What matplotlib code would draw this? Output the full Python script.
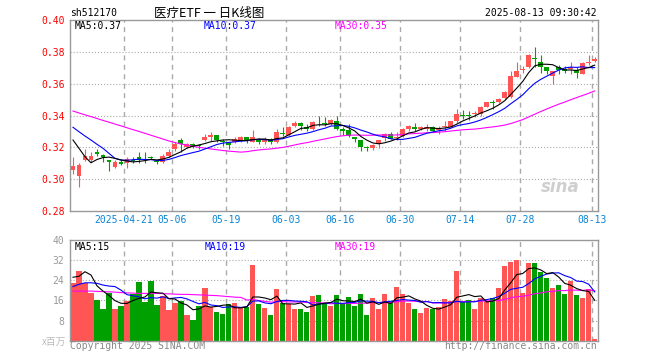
import matplotlib
matplotlib.use('Agg')
import matplotlib.pyplot as plt
import numpy as np
import pandas as pd

plt.rcParams['lines.scale_dashes'] = False

# %% Data — daily candles (index 0 = 2025-04-08 ... 87 = 2025-08-13)
opens = [0.306, 0.302, 0.312, 0.312, 0.3172, 0.315, 0.312, 0.3075, 0.3105, 0.310,
         0.3118, 0.314, 0.3135, 0.3138, 0.3115, 0.311, 0.3145, 0.3187, 0.3246, 0.320,
         0.3219, 0.3215, 0.3246, 0.3267, 0.3277, 0.3238, 0.3232, 0.3232, 0.3246, 0.3267,
         0.3232, 0.3246, 0.3232, 0.3252, 0.3232, 0.3288, 0.3277, 0.3335, 0.335, 0.3329,
         0.3315, 0.3356, 0.3356, 0.3346, 0.3367, 0.3315, 0.3308, 0.3267, 0.3246, 0.3202,
         0.3194, 0.3221, 0.3256, 0.3283, 0.3256, 0.3269, 0.3315, 0.3329, 0.3315, 0.3315,
         0.3325, 0.3308, 0.3325, 0.3329, 0.3363, 0.3404, 0.340, 0.3408, 0.3409, 0.3455,
         0.3484, 0.3482, 0.3509, 0.3514, 0.3643, 0.3688, 0.3702, 0.3758, 0.3733, 0.3702,
         0.365, 0.3702, 0.3692, 0.3692, 0.3685, 0.366, 0.3727, 0.3742]
highs = [0.314, 0.310, 0.319, 0.317, 0.319, 0.316, 0.312, 0.312, 0.3125, 0.314,
         0.314, 0.317, 0.317, 0.3148, 0.312, 0.316, 0.319, 0.3235, 0.326, 0.323,
         0.323, 0.3221, 0.3283, 0.3294, 0.3277, 0.3252, 0.3235, 0.3263, 0.3273, 0.3267,
         0.3308, 0.3256, 0.3263, 0.3256, 0.3315, 0.3325, 0.3331, 0.3363, 0.336, 0.3346,
         0.3367, 0.340, 0.3388, 0.3377, 0.3398, 0.3329, 0.3346, 0.3267, 0.3246, 0.321,
         0.3221, 0.3246, 0.3288, 0.3294, 0.3294, 0.3321, 0.3342, 0.3356, 0.3333, 0.3346,
         0.3335, 0.3335, 0.3367, 0.3367, 0.344, 0.3432, 0.3428, 0.3426, 0.3461, 0.3486,
         0.3497, 0.3509, 0.3555, 0.3681, 0.3733, 0.3712, 0.3785, 0.3831, 0.3781, 0.3706,
         0.3681, 0.3719, 0.3712, 0.3733, 0.3702, 0.3733, 0.3781, 0.3765]
lows = [0.303, 0.295, 0.3115, 0.311, 0.3145, 0.311, 0.305, 0.307, 0.309, 0.307,
        0.310, 0.310, 0.310, 0.3125, 0.3095, 0.310, 0.314, 0.318, 0.317, 0.3193,
        0.3193, 0.319, 0.3242, 0.3242, 0.3232, 0.321, 0.319, 0.3225, 0.3232, 0.3225,
        0.3232, 0.3221, 0.3221, 0.3221, 0.3225, 0.3273, 0.3273, 0.3329, 0.3308, 0.3304,
        0.331, 0.3335, 0.3335, 0.3342, 0.3308, 0.328, 0.3263, 0.3231, 0.318, 0.318,
        0.3183, 0.3196, 0.3242, 0.3252, 0.3246, 0.3263, 0.3304, 0.330, 0.3308, 0.3304,
        0.3294, 0.3283, 0.3304, 0.3325, 0.3356, 0.338, 0.3374, 0.3392, 0.3399, 0.3451,
        0.3441, 0.3476, 0.3503, 0.351, 0.3639, 0.3664, 0.3698, 0.3702, 0.3664, 0.366,
        0.3597, 0.366, 0.3664, 0.366, 0.3633, 0.366, 0.3719, 0.3735]
closes = [0.308, 0.309, 0.3145, 0.3145, 0.3158, 0.314, 0.3105, 0.3105, 0.3095, 0.3125,
          0.3113, 0.312, 0.313, 0.3135, 0.3105, 0.3145, 0.317, 0.322, 0.322, 0.322,
          0.3205, 0.3208, 0.3267, 0.3277, 0.3246, 0.3232, 0.3217, 0.3252, 0.3267, 0.3246,
          0.3263, 0.3232, 0.3252, 0.3232, 0.3298, 0.3283, 0.3329, 0.335, 0.3335, 0.3315,
          0.336, 0.335, 0.3346, 0.3371, 0.3315, 0.3304, 0.3273, 0.325, 0.320, 0.3198,
          0.3217, 0.3246, 0.3283, 0.3252, 0.3267, 0.3315, 0.3335, 0.3315, 0.3329, 0.3325,
          0.330, 0.332, 0.3333, 0.3363, 0.3412, 0.340, 0.3398, 0.3413, 0.3455, 0.3482,
          0.348, 0.3503, 0.3545, 0.365, 0.3681, 0.3692, 0.3781, 0.3754, 0.3702, 0.3681,
          0.3677, 0.3689, 0.3681, 0.3702, 0.3664, 0.3727, 0.3733, 0.3755]
# volume, millions
volumes = [23.0, 27.7, 23.0, 19.1, 16.2, 12.6, 19.1, 12.6, 13.8, 15.9,
           18.4, 23.3, 15.5, 23.7, 14.2, 17.7, 12.2, 15.1, 15.8, 10.2,
           8.2, 13.8, 21.1, 13.5, 11.5, 10.6, 14.6, 15.1, 13.5, 13.5,
           30.1, 14.6, 13.1, 10.2, 20.5, 14.8, 14.6, 12.6, 12.6, 11.5,
           17.7, 18.1, 14.8, 13.8, 18.1, 14.6, 17.5, 13.8, 18.5, 10.2,
           17.1, 12.6, 18.5, 15.5, 21.5, 18.4, 15.1, 12.5, 11.1, 13.1,
           12.6, 13.5, 16.6, 15.8, 27.8, 15.2, 16.2, 12.6, 17.1, 15.8,
           17.1, 21.1, 29.7, 31.4, 32.1, 19.1, 31.0, 31.0, 27.4, 24.8,
           21.1, 22.1, 18.5, 23.7, 18.1, 17.1, 20.5, 0.7]

ma5_head = [0.3246, 0.3194, 0.3141, 0.3103]
ma10_head = [0.3326, 0.3298, 0.3271, 0.3246, 0.3219, 0.3194, 0.3162, 0.3131, 0.312]
ma30_head = [0.3428, 0.3416, 0.3404, 0.3393, 0.3381, 0.3369, 0.3358, 0.3346, 0.3335, 0.3323,
             0.3311, 0.330, 0.3288, 0.3276, 0.3264, 0.3252, 0.324, 0.323, 0.3221, 0.3214,
             0.3207, 0.320, 0.3195, 0.319, 0.3185, 0.318, 0.3176, 0.3173, 0.317]
vma5_head = [25.2, 25.6, 27.4, 26.1]
vma10_head = [21.5, 22.4, 23.0, 23.0, 22.8, 22.1, 21.7, 21.5, 20.1]
vma30_head = [19.7, 19.7, 19.7, 19.7, 19.6, 19.5, 19.4, 19.3, 19.1, 19.0,
              18.9, 18.8, 18.8, 18.8, 18.8, 18.7, 18.6, 18.5, 18.4, 18.4,
              18.3, 18.2, 18.1, 18.0, 17.9, 17.7, 17.5, 17.3, 17.2]

# legend readouts as printed on the chart
price_ma_labels = ['MA5:0.37', 'MA10:0.37', 'MA30:0.35']
vol_ma_labels = ['MA5:15', 'MA10:19', 'MA30:19']

tick_idx = [9, 17, 26, 36, 45, 55, 65, 75, 87]
tick_labels = ['2025-04-21', '05-06', '05-19', '06-03', '06-16', '06-30', '07-14', '07-28', '08-13']
price_ticks = [0.28, 0.30, 0.32, 0.34, 0.36, 0.38, 0.40]
vol_ticks = [8, 16, 24, 32, 40]

# %% Styling
RED, GREEN = '#ff5555', '#00a000'
MA_COLORS = ['black', '#0000ff', '#ff00ff']
GRID = '#aaaaaa'
FRAME = '#999999'
DATE_BLUE = '#0a84d6'
MONO = 'DejaVu Sans Mono'
CJK = ['Noto Sans CJK SC', 'DejaVu Sans']
FS = 7
LW = 0.8
W, H = 660, 360


def ma(vals, n, head):
    rolled = pd.Series(vals).rolling(n).mean().to_numpy()
    rolled[:n - 1] = head
    return rolled


def px(x, y):
    return x / W, 1 - y / H


ma5, ma10, ma30 = ma(closes, 5, ma5_head), ma(closes, 10, ma10_head), ma(closes, 30, ma30_head)
vma5, vma10, vma30 = ma(volumes, 5, vma5_head), ma(volumes, 10, vma10_head), ma(volumes, 30, vma30_head)

o, h, l, c = map(np.array, (opens, highs, lows, closes))
x = np.arange(len(o))
up = c >= o
colors = np.where(up, RED, GREEN)

fig = plt.figure(figsize=(6.6, 3.6), dpi=100)
ax = fig.add_axes([70 / W, 1 - 211 / H, 527.7 / W, 191 / H])
axv = fig.add_axes([70 / W, 1 - 340.7 / H, 527.7 / W, 100.7 / H])

for a in (ax, axv):
    a.set_xlim(-0.5, len(o) - 0.5)
    for s in a.spines.values():
        s.set_color(FRAME)
        s.set_linewidth(1)
    for t in tick_idx:
        a.axvline(t - 0.5, color=GRID, lw=1, ls=(0, (3.6, 3.2)), zorder=0)
    a.tick_params(length=0)

# price panel
ax.set_ylim(0.28, 0.40)
for p in price_ticks[1:-1]:
    ax.axhline(p, color=GRID, lw=0.8, ls=(0, (0.8, 1.4)), zorder=0)
ax.text(0.965, 0.08, 'sina', transform=ax.transAxes, ha='right', va='bottom',
        fontsize=12, fontweight='bold', fontstyle='italic', color='#cfcfcf', zorder=1)
ax.vlines(x, l, h, colors=colors, lw=LW, zorder=2)
body = np.maximum(np.abs(c - o), 0.0006)
ax.bar(x, body, bottom=np.minimum(o, c), width=0.82, color=colors, lw=0, zorder=3)
for line, col in zip((ma30, ma10, ma5), MA_COLORS[::-1]):
    ax.plot(x, line, color=col, lw=LW, zorder=4)
ax.set_yticks(price_ticks)
ax.set_yticklabels([f'{p:.2f}' for p in price_ticks], color='red', family=MONO, fontsize=FS)
ax.tick_params(axis='y', pad=4)
ax.set_xticks([t - 0.5 for t in tick_idx])
ax.set_xticklabels(tick_labels, color=DATE_BLUE, family=MONO, fontsize=FS)
ax.tick_params(axis='x', pad=3)

# volume panel
axv.set_ylim(0, 40)
for v in vol_ticks[:-1]:
    axv.axhline(v, color=GRID, lw=0.8, ls=(0, (0.8, 1.4)), zorder=0)
axv.bar(x, volumes, width=0.86, color=colors, lw=0, zorder=2)
for line, col in zip((vma30, vma10, vma5), MA_COLORS[::-1]):
    axv.plot(x, line, color=col, lw=LW, zorder=4)
axv.set_yticks(vol_ticks)
axv.set_yticklabels([str(v) for v in vol_ticks], color='#999999', family=MONO, fontsize=FS)
axv.tick_params(axis='y', pad=4)
axv.set_xticks([])

# header and legends
fig.text(*px(70, 13), 'sh512170', ha='left', va='center', family=MONO, fontsize=FS)
fig.text(*px(209, 13), '医疗ETF 一 日K线图', ha='center', va='center', family=CJK, fontsize=9)
fig.text(*px(597, 13), '2025-08-13 09:30:42', ha='right', va='center', family=MONO, fontsize=FS)

for lx, txt, col in zip((75, 204, 335), price_ma_labels, MA_COLORS):
    fig.text(*px(lx, 26), txt, ha='left', va='center', family=MONO, fontsize=FS, color=col)
for lx, txt, col in zip((75, 205, 335), vol_ma_labels, MA_COLORS):
    fig.text(*px(lx, 247), txt, ha='left', va='center', family=MONO, fontsize=FS, color=col)

fig.text(*px(66, 342), 'x百万', ha='right', va='center', family=CJK, fontsize=7, color='#bbbbbb')
fig.text(*px(70, 346), 'Copyright 2025 SINA.COM', ha='left', va='center',
         family=MONO, fontsize=FS, color='#888888')
fig.text(*px(597, 346), 'http://finance.sina.com.cn', ha='right', va='center',
         family=MONO, fontsize=FS, color='#888888')

fig.savefig('out.png', dpi=100)
